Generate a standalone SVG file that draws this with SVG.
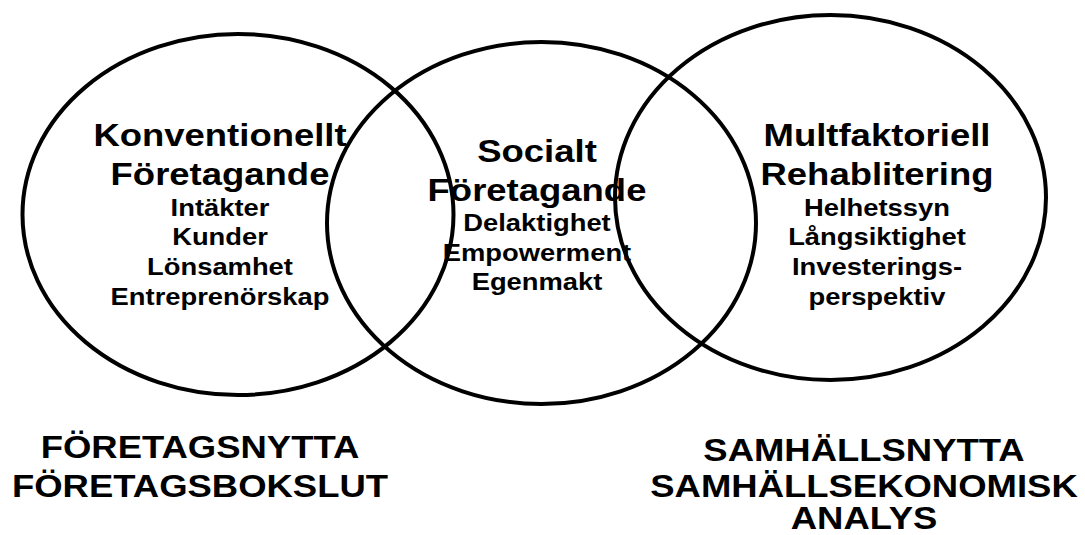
<svg xmlns="http://www.w3.org/2000/svg" width="1085" height="535" viewBox="0 0 1085 535">
<style>
.ring{fill:none;stroke:#000;stroke-width:4}
text{font-family:"Liberation Sans",Arial,sans-serif;font-weight:bold;fill:#000;text-anchor:middle}
.h{font-size:32px}
.s{font-size:24px}
.b{font-size:32px}
</style>
<rect width="1085" height="535" fill="#fff"/>
<g id="connectors"></g>
<g id="node-konventionellt">
<ellipse class="ring" cx="238" cy="214.5" rx="215.5" ry="180.5"/>
<g transform="translate(220,0) scale(1.14,1)">
<text class="h" x="0" y="146">Konventionellt</text>
<text class="h" x="0" y="185">Företagande</text>
<text class="s" x="0" y="216.5">Intäkter</text>
<text class="s" x="0" y="245.5">Kunder</text>
<text class="s" x="0" y="275.5">Lönsamhet</text>
<text class="s" x="0" y="305.5">Entreprenörskap</text>
</g>
</g>
<g id="node-socialt">
<ellipse class="ring" cx="541.5" cy="223" rx="214.5" ry="181"/>
<g transform="translate(537,0) scale(1.14,1)">
<text class="h" x="0" y="162">Socialt</text>
<text class="h" x="0" y="201.5">Företagande</text>
<text class="s" x="0" y="231.5">Delaktighet</text>
<text class="s" x="0" y="261.5">Empowerment</text>
<text class="s" x="0" y="290.5">Egenmakt</text>
</g>
</g>
<g id="node-multfaktoriell">
<ellipse class="ring" cx="830.5" cy="197.5" rx="215.5" ry="182.5"/>
<g transform="translate(877,0) scale(1.14,1)">
<text class="h" x="0" y="146.5">Multfaktoriell</text>
<text class="h" x="0" y="185">Rehablitering</text>
<text class="s" x="0" y="216.5">Helhetssyn</text>
<text class="s" x="0" y="245">Långsiktighet</text>
<text class="s" x="0" y="275">Investerings-</text>
<text class="s" x="0" y="305">perspektiv</text>
</g>
</g>
<g id="label-foretag">
<g transform="translate(200,0) scale(1.14,1)">
<text class="b" x="0" y="458.5">FÖRETAGSNYTTA</text>
<text class="b" x="0" y="497.5">FÖRETAGSBOKSLUT</text>
</g>
</g>
<g id="label-samhalle">
<g transform="translate(864,0) scale(1.14,1)">
<text class="b" x="0" y="461">SAMHÄLLSNYTTA</text>
<text class="b" x="0" y="496.5">SAMHÄLLSEKONOMISK</text>
<text class="b" x="0" y="529">ANALYS</text>
</g>
</g>
</svg>
